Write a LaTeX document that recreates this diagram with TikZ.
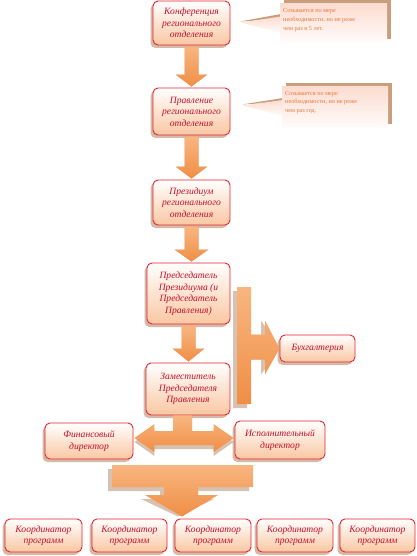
\documentclass[tikz,border=0pt]{standalone}
\usepackage{fontspec}
\setmainfont{Liberation Serif}
\usetikzlibrary{shadows,calc}
\definecolor{boxred}{HTML}{E8232E}
\definecolor{txtred}{HTML}{C4102C}
\definecolor{peach}{HTML}{FAC7A2}
\definecolor{arrowA}{HTML}{F8B680}
\definecolor{arrowB}{HTML}{F08E45}
\definecolor{shad}{HTML}{B08462}
\definecolor{callsh}{HTML}{C99E7C}
\definecolor{calltxt}{HTML}{E6773A}
\definecolor{callpink}{HTML}{FCDCD0}
\newcommand\darrowpath[5]{let \p1=(#1.south), \p2=(#2.north) in
  (\x1-#3pt,\y1-1pt) -- (\x1+#3pt,\y1-1pt) -- (\x1+#3pt,\y2+#5pt) -- (\x1+#4pt,\y2+#5pt)
  -- (\x1,\y2+1pt) -- (\x1-#4pt,\y2+#5pt) -- (\x1-#3pt,\y2+#5pt) -- cycle}
\begin{document}
\begin{tikzpicture}[x=1pt,y=-1pt,
  box/.style={draw=boxred, line width=0.9pt, rounded corners=5pt, top color=white,
    bottom color=peach, align=center, font=\fontsize{9.6}{11.5}\selectfont\itshape,
    text=txtred, inner sep=0pt,
    drop shadow={shadow xshift=-2.5pt, shadow yshift=-3pt, fill=shad, opacity=0.55}},
  arr/.style={top color=arrowA, bottom color=arrowB, draw=none},
  arrsh/.style={fill=shad, opacity=0.5, xshift=-4pt, yshift=-4pt},
  calltext/.style={anchor=north west, align=left, inner sep=0pt,
    font=\fontsize{6.2}{8.6}\selectfont, text=calltxt}]
\useasboundingbox (0,0) rectangle (416,556);

% main column
\node[box, minimum width=77pt, minimum height=44pt] (b1) at (191.5,23) {Конференция\\регионального\\отделения};
\node[box, minimum width=77pt, minimum height=47pt] (b2) at (191.5,111.5) {Правление\\регионального\\отделения};
\node[box, minimum width=77pt, minimum height=45pt] (b3) at (191.5,202.5) {Президиум\\регионального\\отделения};
\node[box, minimum width=83pt, minimum height=61pt] (b4) at (188.5,293.5) {Председатель\\Президиума (и\\Председатель\\Правления)};
\node[box, minimum width=84pt, minimum height=52pt] (b5) at (188,389) {Заместитель\\Председателя\\Правления};
\node[box, minimum width=75pt, minimum height=27pt] (bux) at (317.5,348.5) {Бухгалтерия};
\node[box, minimum width=88pt, minimum height=36pt] (fin) at (89,441) {Финансовый\\директор};
\node[box, minimum width=90pt, minimum height=38pt] (isp) at (280,440) {Исполнительный\\директор};

% bottom row
\node[box, minimum width=77pt, minimum height=33pt] (k1) at (43.5,535.5) {Координатор\\программ};
\node[box, minimum width=75pt, minimum height=33pt] (k2) at (129.5,535.5) {Координатор\\программ};
\node[box, minimum width=76pt, minimum height=33pt] (k3) at (213,535.5) {Координатор\\программ};
\node[box, minimum width=76pt, minimum height=33pt] (k4) at (295,535.5) {Координатор\\программ};
\node[box, minimum width=75pt, minimum height=33pt] (k5) at (377.5,535.5) {Координатор\\программ};

% down arrows
\foreach \a/\b/\s/\h/\l in {b1/b2/7/16/13, b2/b3/7/16/13, b3/b4/7/17/13, b4/b5/7/16/14}{
  \path[arrsh] \darrowpath{\a}{\b}{\s}{\h}{\l};
  \path[arr] \darrowpath{\a}{\b}{\s}{\h}{\l};
}

% bent arrow to accounting
\foreach \st in {arrsh,arr}{
  \path[\st] let \p1=(bux.west) in
    (237,287) -- (251,287) -- (251,\y1+14pt) -- (265,\y1+14pt) -- (265,\y1+28pt)
    -- (\x1,\y1) -- (265,\y1-26pt) -- (265,\y1-11pt) -- (251,\y1-11pt)
    -- (251,404) -- (237,404) -- cycle;
}

% stem + double arrow between directors
\foreach \st in {arrsh,arr}{
  \path[\st] let \p1=(fin.east), \p2=(isp.west), \p3=(b5.south) in
    (\x3-15pt,\y3) -- (\x3+4pt,\y3) -- (\x3+4pt,-431pt) -- (\x2-21pt,-431pt) -- (\x2-21pt,-424pt)
    -- (\x2-1pt,-438pt) -- (\x2-21pt,-452pt) -- (\x2-21pt,-445pt) -- (\x1+21pt,-445pt)
    -- (\x1+21pt,-452pt) -- (\x1+1pt,-438pt) -- (\x1+21pt,-424pt) -- (\x1+21pt,-431pt)
    -- (\x3-15pt,-431pt) -- cycle;
}

% big bar + arrow to the coordinators
\foreach \st in {arrsh,arr}{
  \path[\st] let \p1=(k3.north) in
    (112,465) -- (253,465) -- (253,487) -- (198,487) -- (198,495) -- (218,495)
    -- (182,\y1+2pt) -- (145,495) -- (164,495) -- (164,487) -- (112,487) -- cycle;
}

% callout 1
\fill[callsh] (284,0) rectangle (391,39);
\fill[callsh] (281,14) -- (240,21.5) -- (281,19) -- cycle;
\shade[top color=callpink, bottom color=white!92!callpink] (281,16.5) -- (241,22.5) -- (281,33) -- cycle;
\shade[top color=callpink, bottom color=white!92!callpink] (280,4) rectangle (387,43);
\node[calltext] (c1) at (283,8.5) {Созывается по мере\\необходимости, но не реже\\чем раз в 5 лет.};

% callout 2
\fill[callsh] (286,83) rectangle (392,124);
\fill[callsh] (283,98) -- (242,104.5) -- (283,102) -- cycle;
\shade[top color=callpink, bottom color=white!92!callpink] (283,100) -- (243,105.5) -- (283,116) -- cycle;
\shade[top color=callpink, bottom color=white!92!callpink] (282,87) rectangle (388,128);
\node[calltext] (c2) at (285,91) {Созывается по мере\\необходимости, но не реже\\чем раз год.};
\end{tikzpicture}
\end{document}
